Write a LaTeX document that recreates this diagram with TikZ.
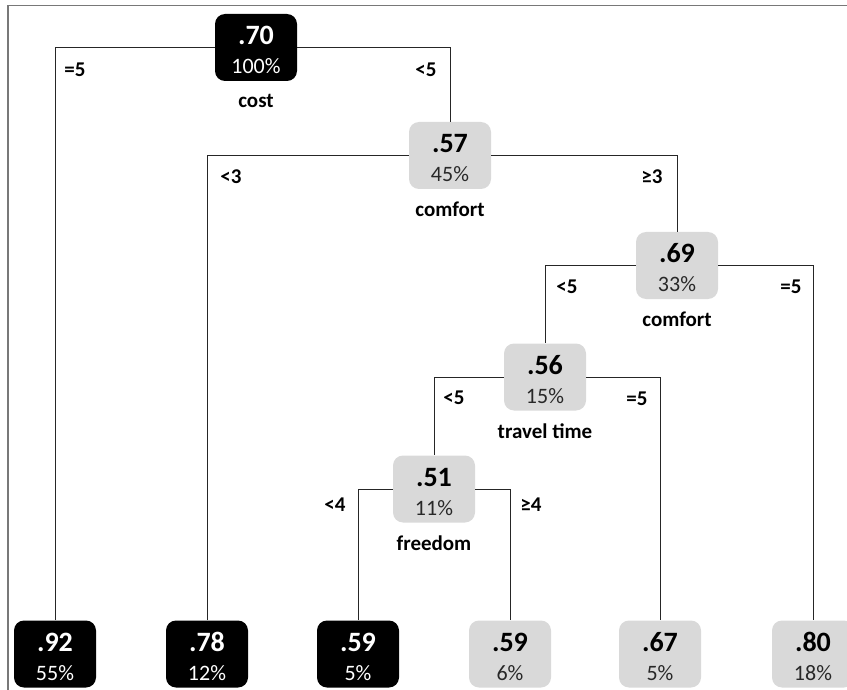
\documentclass[tikz,border=0pt]{standalone}
\usepackage{fontspec}
\setmainfont{Carlito}
\usepackage{tikz}
\usetikzlibrary{positioning}
\definecolor{leafgray}{RGB}{217,217,217}
\definecolor{pctgray}{RGB}{40,40,40}
\definecolor{framegray}{RGB}{120,120,120}
\newcommand{\valtxt}[1]{{\fontsize{28}{30}\selectfont\bfseries\rule{0pt}{24pt}#1}}
\newcommand{\pcttxt}[1]{{\fontsize{22}{30}\selectfont #1}}

\begin{document}
\begin{tikzpicture}[x=1pt,y=-1pt,
  dark/.style={fill=black,text=white,rounded corners=10pt,
               minimum width=82pt,minimum height=67pt,inner sep=0pt,
               align=center,font=\fontsize{22}{29}\selectfont},
  light/.style={fill=leafgray,text=black,rounded corners=10pt,
                minimum width=82pt,minimum height=67pt,inner sep=0pt,
                align=center,font=\fontsize{22}{29}\selectfont},
  split/.style={font=\fontsize{21}{24}\selectfont\bfseries,inner sep=1pt},
  cond/.style={font=\fontsize{21}{24}\selectfont\bfseries,inner sep=1pt},
  edge/.style={draw=black!85,line width=0.9pt}]
  \useasboundingbox (0,0) rectangle (847,690);
  \draw[framegray,line width=1.6pt] (8,690) -- (8,5.5) -- (847,5.5);
  % inner splits
  \node[dark](root) at (256,47.5) {\valtxt{.70}\\\pcttxt{100\%}};
  \node[light](n57) at (450,155.5) {\valtxt{.57}\\\pcttxt{\color{pctgray}45\%}};
  \node[light](n69) at (677,265.5) {\valtxt{.69}\\\pcttxt{\color{pctgray}33\%}};
  \node[light](n56) at (545,377) {\valtxt{.56}\\\pcttxt{\color{pctgray}15\%}};
  \node[light](n51) at (434,489) {\valtxt{.51}\\\pcttxt{\color{pctgray}11\%}};
  \node[split,below=12pt of root](cost) {cost};
  \node[split,below=12pt of n57](comfortA) {comfort};
  \node[split,below=12pt of n69](comfortB) {comfort};
  \node[split,below=12pt of n56](travel) {travel time};
  \node[split,below=12pt of n51](freedom) {freedom};
  % leaves
  \node[dark](l92) at (55,654) {\valtxt{.92}\\\pcttxt{55\%}};
  \node[dark](l78) at (207,654) {\valtxt{.78}\\\pcttxt{12\%}};
  \node[dark](l59a) at (358,654) {\valtxt{.59}\\\pcttxt{5\%}};
  \node[light](l59b) at (510,654) {\valtxt{.59}\\\pcttxt{\color{pctgray}6\%}};
  \node[light](l67) at (660,654) {\valtxt{.67}\\\pcttxt{\color{pctgray}5\%}};
  \node[light](l80) at (813,654) {\valtxt{.80}\\\pcttxt{\color{pctgray}18\%}};
  % branches
  \draw[edge](root)-|(l92); \draw[edge](root)-|(n57);
  \draw[edge](n57)-|(l78); \draw[edge](n57)-|(n69);
  \draw[edge](n69)-|(n56); \draw[edge](n69)-|(l80);
  \draw[edge](n56)-|(n51); \draw[edge](n56)-|(l67);
  \draw[edge](n51)-|(l59a); \draw[edge](n51)-|(l59b);
  % conditions
  \node[cond](c1) at (75,70) {=5};
  \node[cond](c2) at (426,70) {<5};
  \node[cond](c3) at (231,177) {<3};
  \node[cond](c4) at (652,177) {≥3};
  \node[cond](c5) at (567,287) {<5};
  \node[cond](c6) at (791,287) {=5};
  \node[cond](c7) at (454,398) {<5};
  \node[cond](c8) at (637,399) {=5};
  \node[cond](c9) at (335,505) {<4};
  \node[cond](c10) at (531,505) {≥4};
\end{tikzpicture}
\end{document}
